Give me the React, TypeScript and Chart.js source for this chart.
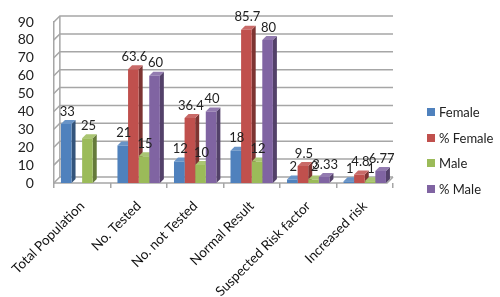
import React, { useEffect, useRef } from 'react';
import { Chart, registerables } from 'chart.js';

Chart.register(...registerables);

const categories = ['Total Population', 'No. Tested', 'No. not Tested', 'Normal Result', 'Suspected Risk factor', 'Increased risk'];
const female = [33, 21, 12, 18, 2, 1];
const femalePct = [null, 63.6, 36.4, 85.7, 9.5, 4.8];
const male = [25, 15, 10, 12, 2, 1];
const malePct = [null, 60, 40, 80, 3.33, 6.77];
const seriesNames = ['Female', '% Female', 'Male', '% Male'];
const seriesColors = ['#4F81BD', '#C0504D', '#9BBB59', '#8064A2'];
const yMax = 90;
const yStep = 10;

const FONT = 'Lato, "Open Sans", sans-serif';
const WALL = 6;
const BAR_D = 4;

function shade(hex: string, f: number): string {
  const n = parseInt(hex.slice(1), 16);
  let r = (n >> 16) & 255, g = (n >> 8) & 255, b = n & 255;
  if (f < 0) {
    r = Math.round(r * (1 + f)); g = Math.round(g * (1 + f)); b = Math.round(b * (1 + f));
  } else {
    r = Math.round(r + (255 - r) * f); g = Math.round(g + (255 - g) * f); b = Math.round(b + (255 - b) * f);
  }
  return `rgb(${r},${g},${b})`;
}

const bar3d = {
  id: 'bar3d',
  beforeDatasetsDraw(chart: any) {
    const ctx = chart.ctx;
    const { left, right, bottom } = chart.chartArea;
    const ys = chart.scales.y;
    ctx.save();
    ctx.strokeStyle = '#A6A6A6';
    ctx.lineWidth = 1.5;
    ys.ticks.forEach((t: any) => {
      const py = ys.getPixelForValue(t.value);
      ctx.beginPath();
      ctx.moveTo(left, py);
      ctx.lineTo(left + WALL, py - WALL);
      ctx.lineTo(right, py - WALL);
      ctx.stroke();
    });
    const topY = ys.getPixelForValue(yMax);
    ctx.beginPath();
    ctx.moveTo(left + WALL, topY - WALL);
    ctx.lineTo(left + WALL, bottom - WALL);
    ctx.stroke();
    ctx.beginPath();
    ctx.moveTo(left, bottom);
    ctx.lineTo(right - WALL, bottom);
    ctx.lineTo(right, bottom - WALL);
    ctx.stroke();
    chart.data.datasets.forEach((ds: any, i: number) => {
      const meta = chart.getDatasetMeta(i);
      const col = seriesColors[i];
      meta.data.forEach((bar: any, j: number) => {
        if (ds.data[j] == null) return;
        const { x, y, base, width } = bar.getProps(['x', 'y', 'base', 'width'], true);
        const l = x - width / 2;
        const r = x + width / 2;
        ctx.fillStyle = shade(col, -0.35);
        ctx.beginPath();
        ctx.moveTo(r, y);
        ctx.lineTo(r + BAR_D, y - BAR_D);
        ctx.lineTo(r + BAR_D, base - BAR_D);
        ctx.lineTo(r, base);
        ctx.closePath();
        ctx.fill();
        ctx.fillStyle = shade(col, 0.15);
        ctx.beginPath();
        ctx.moveTo(l, y);
        ctx.lineTo(l + BAR_D, y - BAR_D);
        ctx.lineTo(r + BAR_D, y - BAR_D);
        ctx.lineTo(r, y);
        ctx.closePath();
        ctx.fill();
      });
    });
    ctx.restore();
  },
  afterDatasetsDraw(chart: any) {
    const ctx = chart.ctx;
    ctx.save();
    ctx.font = `13px ${FONT}`;
    ctx.fillStyle = '#222';
    ctx.textAlign = 'center';
    ctx.textBaseline = 'bottom';
    chart.data.datasets.forEach((ds: any, i: number) => {
      const meta = chart.getDatasetMeta(i);
      meta.data.forEach((bar: any, j: number) => {
        const v = ds.data[j];
        if (v == null) return;
        const { x, y } = bar.getProps(['x', 'y'], true);
        ctx.fillText(String(v), x + 1, y - 6);
      });
    });
    ctx.restore();
  },
};

export default function App() {
  const ref = useRef<HTMLCanvasElement>(null);
  useEffect(() => {
    const data = [female, femalePct, male, malePct];
    const chart = new Chart(ref.current!, {
      type: 'bar',
      data: {
        labels: categories,
        datasets: seriesNames.map((name, i) => ({
          label: name,
          data: data[i],
          backgroundColor: seriesColors[i],
          borderWidth: 0,
          categoryPercentage: 0.75,
          barPercentage: 1,
        })),
      },
      options: {
        animation: false,
        responsive: false,
        maintainAspectRatio: false,
        layout: { padding: { top: 22, right: 107, left: 4, bottom: 0 } },
        plugins: {
          legend: { display: false },
          tooltip: { enabled: false },
        },
        scales: {
          x: {
            afterFit: (scale: any) => { scale.height = 114; },
            grid: { display: true, drawOnChartArea: false, drawTicks: true, tickLength: 5, color: '#A6A6A6', lineWidth: 1.5 },
            border: { display: false },
            ticks: { maxRotation: 45, minRotation: 45, autoSkip: false, color: '#111', font: { family: FONT, size: 13.5 }, padding: 10 },
          },
          y: {
            min: 0,
            max: yMax,
            grid: { display: false },
            border: { display: true, color: '#A6A6A6', width: 1.5 },
            ticks: { stepSize: yStep, autoSkip: false, color: '#222', font: { family: FONT, size: 14 }, padding: 12 },
          },
        },
      },
      plugins: [bar3d],
    });
    return () => chart.destroy();
  }, []);
  return (
    <div style={{ position: 'fixed', left: 0, top: 0, width: 500, height: 297, background: '#fff' }}>
      <canvas ref={ref} width={500} height={297} style={{ width: 500, height: 297 }} />
      <div style={{ position: 'absolute', left: 427, top: 99, fontFamily: FONT, fontSize: 13, color: '#222' }}>
        {seriesNames.map((name, i) => (
          <div key={name} style={{ display: 'flex', alignItems: 'center', height: 25.7 }}>
            <span style={{ display: 'inline-block', width: 8, height: 8, background: seriesColors[i], marginRight: 4 }} />
            <span>{name}</span>
          </div>
        ))}
      </div>
    </div>
  );
}
